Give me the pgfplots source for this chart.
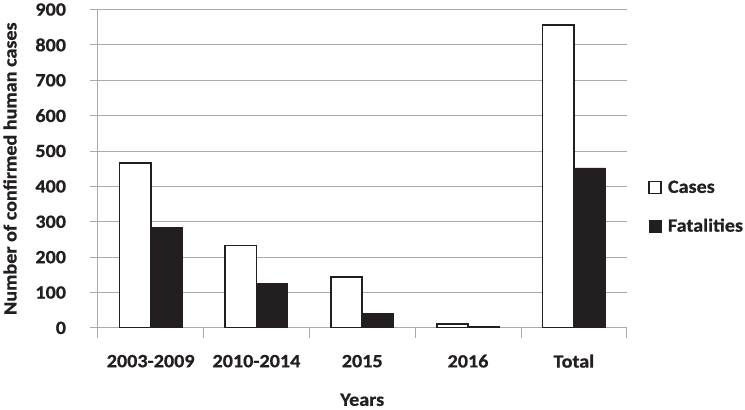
\documentclass[border=0pt]{standalone}
\usepackage{fontspec}
\setmainfont{Carlito}[FakeStretch=1.08, BoldFeatures={FakeBold=0.8}]
\usepackage{pgfplots}
\pgfplotsset{compat=1.18}
\definecolor{barblack}{RGB}{35,31,32}
\definecolor{gridgray}{RGB}{170,170,170}
\newcommand{\chartfont}{\fontsize{18.5}{22}\selectfont\bfseries}

\begin{document}
\begin{tikzpicture}
\begin{axis}[
    scale only axis,
    width=525pt, height=316pt,
    ybar=0pt, bar width=31pt,
    xmin=-0.5, xmax=4.5,
    ymin=0, ymax=900,
    xtick={0,...,4},
    xticklabels={2003-2009,2010-2014,2015,2016,Total},
    minor xtick={-0.5,0.5,...,4.5},
    ytick={0,100,...,900},
    tick align=outside,
    major tick length=8pt,
    minor tick length=10pt,
    major x tick style={draw=none},
    minor x tick style={gridgray, line width=0.8pt},
    y tick style={gridgray, line width=0.8pt},
    axis x line*=bottom,
    axis y line*=left,
    axis line style={gridgray, line width=0.8pt, -},
    ymajorgrids,
    grid style={gridgray, line width=0.8pt},
    font=\chartfont,
    /pgf/number format/assume math mode=true,
    ticklabel style={text=barblack, font=\chartfont},
    yticklabel style={anchor=east, at={(axis description cs:0,0)}, xshift=-20pt},
    xticklabel style={anchor=center, yshift=-25pt},
    xlabel={Years},
    ylabel={Number of confirmed human cases},
    label style={text=barblack, font=\chartfont},
    xlabel style={at={(axis description cs:0.5,-0.226)}, anchor=center},
    ylabel style={at={(axis description cs:-0.166,0.5)}, anchor=center},
    legend style={at={(1.04,0.38)}, anchor=west, draw=none, fill=none,
        font=\chartfont, text=barblack,
        row sep=20pt, inner sep=0pt},
    legend image code/.code={\draw[#1, bar width=0pt] (0pt,-6pt) rectangle (12pt,6pt);
        \path (16pt,0pt);},
    legend cell align=left,
]
\addplot[draw=barblack, line width=1.8pt, fill=white] coordinates {
    (0,467) (1,233) (2,144) (3,11) (4,856)};
\addplot[draw=barblack, fill=barblack] coordinates {
    (0,284) (1,126) (2,42) (3,4) (4,452)};
\legend{Cases, Fatalities}
\end{axis}
\end{tikzpicture}
\end{document}
